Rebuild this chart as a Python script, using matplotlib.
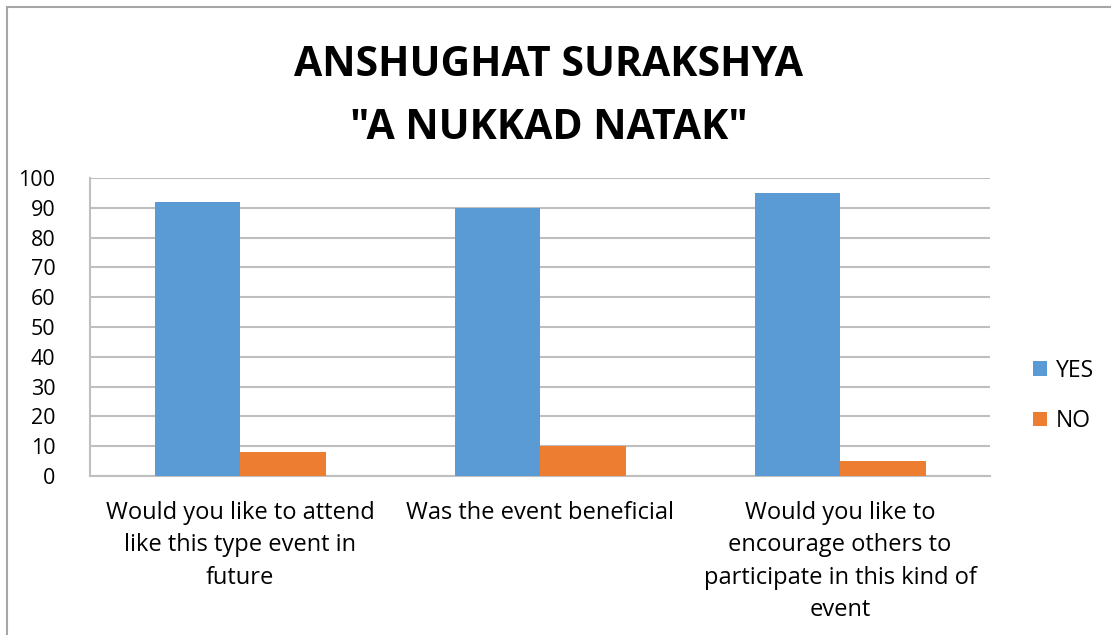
import matplotlib
matplotlib.use("Agg")
import matplotlib.pyplot as plt
import numpy as np
from matplotlib.patches import Rectangle

categories = ["Would you like to attend\nlike this type event in\nfuture",
              "Was the event beneficial",
              "Would you like to\nencourage others to\nparticipate in this kind of\nevent"]
yes_values = [92, 90, 95]
no_values = [8, 10, 5]
series_names = ["YES", "NO"]
yticks = list(range(0, 101, 10))
title = 'ANSHUGHAT SURAKSHYA\n"A NUKKAD NATAK"'

FONT = "Open Sans"
plt.rcParams['font.family'] = [FONT, 'DejaVu Sans']

fig = plt.figure(figsize=(11.11, 6.35), dpi=100)
# outer chart border
fig.patches.append(Rectangle((7/1111, -0.1), 1.2, 1 - 7/635 + 0.1, transform=fig.transFigure,
                             fill=False, edgecolor="#A6A6A6", linewidth=1.5))

ax = fig.add_axes([90/1111, 1 - 476/635, 900/1111, 298/635])
x = np.arange(len(categories))
w = 0.285
ax.bar(x - w/2, yes_values, w, color="#5B9BD5", label=series_names[0], zorder=3)
ax.bar(x + w/2, no_values, w, color="#ED7D31", label=series_names[1], zorder=3)

ax.set_xlim(-0.5, len(categories) - 0.5)
ax.set_ylim(0, 100)
ax.set_yticks(yticks)
ax.set_yticklabels([str(v) for v in yticks], fontsize=15.5)
ax.set_xticks(x)
ax.set_xticklabels(categories, fontsize=17, linespacing=1.47, va="top")
ax.tick_params(axis='both', length=0)
ax.tick_params(axis='y', pad=25)
ax.tick_params(axis='x', pad=18)
for lab in ax.get_yticklabels():
    lab.set_horizontalalignment("right")
ax.yaxis.grid(True, color="#BFBFBF", linewidth=1.5, zorder=0)
for s in ["top", "right"]:
    ax.spines[s].set_visible(False)
for s in ["left", "bottom"]:
    ax.spines[s].set_color("#BFBFBF")
    ax.spines[s].set_linewidth(1.5)

fig.text(549/1111, 1 - 97/635, title, ha="center", va="center", fontsize=29.5,
         fontweight="bold", linespacing=1.72)

leg = ax.legend(loc="center left", bbox_to_anchor=(1.025, (476 - 396) / 298), frameon=False,
                fontsize=16.5, handlelength=0.6, handleheight=0.6, labelspacing=1.15,
                handletextpad=0.4)

fig.savefig("out.png", dpi=100)
